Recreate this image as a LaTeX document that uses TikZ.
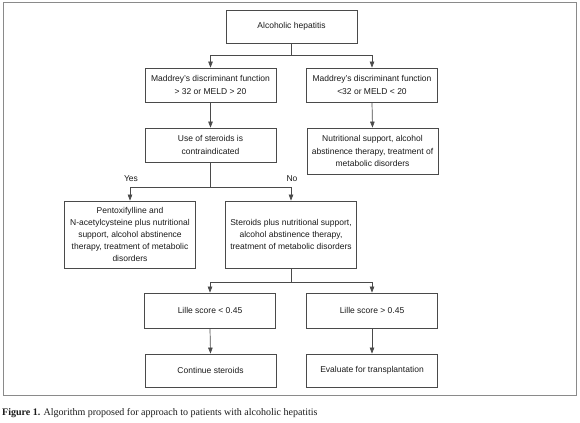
\documentclass[tikz,border=0pt]{standalone}
\usepackage{fontspec}
\setmainfont{Liberation Serif}
\newfontfamily\boxfont{Liberation Sans}
\usetikzlibrary{arrows.meta}
\definecolor{linegray}{HTML}{4A4A4A}
\definecolor{framegray}{HTML}{8A8A8A}
\definecolor{txt}{HTML}{1A1A1A}
\tikzset{
  box/.style={draw=linegray, line width=0.8bp, minimum width=131bp, inner sep=0pt,
    align=center, text=txt, font=\boxfont\fontsize{8.5bp}{12.2bp}\selectfont},
  conn/.style={draw=linegray, line width=0.7bp},
  arr/.style={conn, -{Triangle[width=4.5bp,length=6bp]}},
  lbl/.style={text=txt, font=\boxfont\fontsize{8.5bp}{10bp}\selectfont, inner sep=0pt},
}
\begin{document}
\begin{tikzpicture}[x=1bp,y=-1bp]
\useasboundingbox (0,0) rectangle (580,422);
\draw[framegray, line width=1bp] (3,2) rectangle (576,395);

\node[box, minimum height=33bp] (A) at (291.5,26.5) {Alcoholic hepatitis};
\node[box, minimum height=34bp] (M1) at (210.5,85) {Maddrey’s discriminant function\\> 32 or MELD > 20};
\node[box, minimum height=34bp] (M2) at (372,85) {Maddrey’s discriminant function\\<32 or MELD < 20};
\node[box, minimum height=34bp] (U) at (210.5,145) {Use of steroids is\\contraindicated};
\node[box, minimum height=46bp] (N) at (372.5,151) {Nutritional support, alcohol\\abstinence therapy, treatment of\\metabolic disorders};
\node[box, minimum height=67bp] (P) at (130,234.5) {Pentoxifylline and\\N-acetylcysteine plus nutritional\\support, alcohol abstinence\\therapy, treatment of metabolic\\disorders};
\node[box, minimum height=67bp] (S) at (291,234.5) {Steroids plus nutritional support,\\alcohol abstinence therapy,\\treatment of metabolic disorders};
\node[box, minimum height=35bp] (L1) at (210,310.5) {Lille score < 0.45};
\node[box, minimum height=35bp] (L2) at (372,310.5) {Lille score > 0.45};
\node[box, minimum height=33bp] (C) at (210.5,370.5) {Continue steroids};
\node[box, minimum height=33bp] (E) at (372,370.5) {Evaluate for transplantation};

\coordinate (j1) at (291.5,55);
\coordinate (j2) at (210.5,187);
\coordinate (j3) at (291,282);

\draw[conn] (A.south) -- (j1);
\draw[arr] (j1) -| (M1.north);
\draw[arr] (j1) -| (M2.north);
\draw[arr] (M1.south) -- (U.north);
\draw[arr] (M2.south) -- (N.north);
\draw[conn] (U.south) -- (j2);
\draw[arr] (j2) -| (P.north);
\draw[arr] (j2) -| (S.north);
\draw[conn] (S.south) -- (j3);
\draw[arr] (j3) -| (L1.north);
\draw[arr] (j3) -| (L2.north);
\draw[arr] (L1.south) -- (C.north);
\draw[arr] (L2.south) -- (E.north);

\node[lbl] (yes) at (131,179) {Yes};
\node[lbl] (no) at (292,179) {No};

\node[anchor=west, inner sep=0pt, text=txt, font=\fontsize{10bp}{12bp}\selectfont] (cap) at (2,413)
  {\textbf{Figure 1.} Algorithm proposed for approach to patients with alcoholic hepatitis};
\end{tikzpicture}
\end{document}
